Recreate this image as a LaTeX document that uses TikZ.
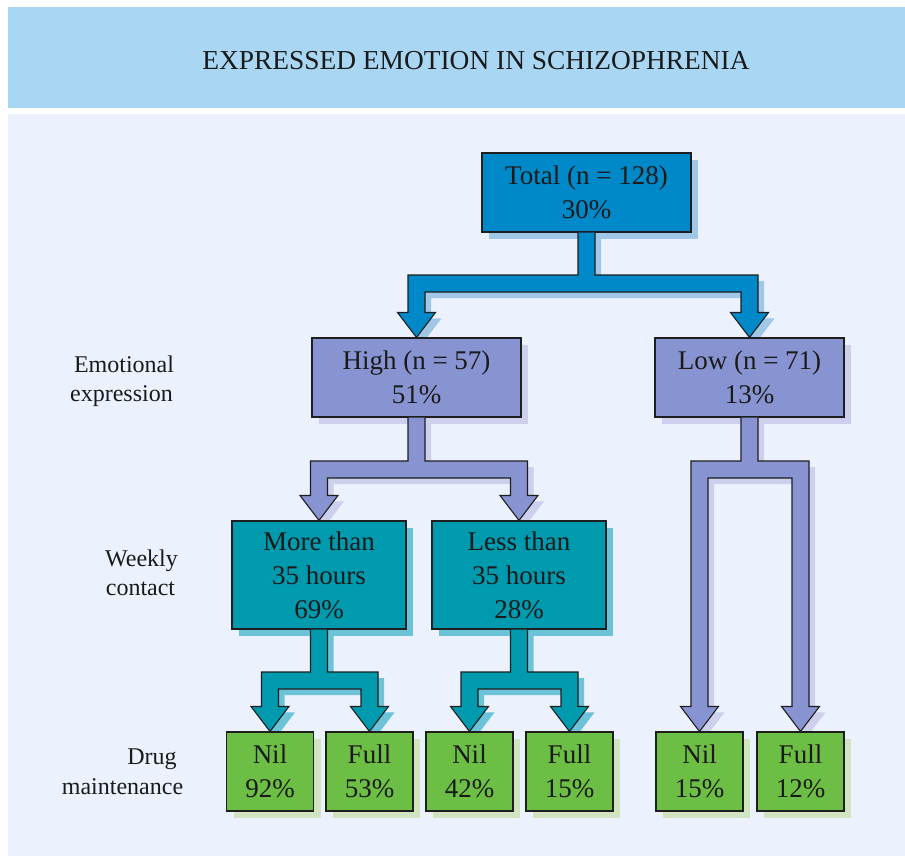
\documentclass[tikz,border=0pt]{standalone}
\usepackage{fontspec}
\setmainfont{Liberation Serif}
\usetikzlibrary{calc,shadows,backgrounds}

\definecolor{hdr}{HTML}{A8D6F3}
\definecolor{panel}{HTML}{EBF2FD}
\definecolor{edge}{HTML}{1E1E1E}
\definecolor{txt}{HTML}{1A1A1A}
\definecolor{cBlue}{HTML}{0089C9}
\definecolor{sBlue}{HTML}{A0C8E6}
\definecolor{cPeri}{HTML}{8794D1}
\definecolor{sPeri}{HTML}{CCD0EC}
\definecolor{cTeal}{HTML}{009AAE}
\definecolor{sTeal}{HTML}{6CC3D8}
\definecolor{cGreen}{HTML}{6CBE45}
\definecolor{sGreen}{HTML}{D0E4C2}

\tikzset{
  box/.style={draw=edge, line width=1.1pt, inner sep=0pt, align=center,
    text=txt, font=\fontsize{27}{34}\selectfont},
  bluebox/.style={box, fill=cBlue,
    general shadow={fill=sBlue, shadow xshift=7pt, shadow yshift=-7pt},
    minimum width=209pt, minimum height=79pt},
  peribox/.style={box, fill=cPeri,
    general shadow={fill=sPeri, shadow xshift=7pt, shadow yshift=-7pt},
    minimum height=79pt},
  tealbox/.style={box, fill=cTeal,
    general shadow={fill=sTeal, shadow xshift=7pt, shadow yshift=-7pt},
    minimum width=174pt, minimum height=108pt},
  greenbox/.style={box, fill=cGreen,
    general shadow={fill=sGreen, shadow xshift=7pt, shadow yshift=-7pt},
    minimum width=87pt, minimum height=79pt},
  sidelabel/.style={anchor=base, inner sep=0pt, text=txt,
    font=\fontsize{24}{30}\selectfont},
  forkline/.style={draw=edge, line width=1.1pt, line join=miter}
}

% fork connector: #1 parent, #2 left child, #3 right child, #4 bar top (image y), #5 offset, #6 style
\newcommand\forkdraw[6]{%
  \path[#6] let \p1=($(#1.south)+(#5)$), \p2=($(#2.north)+(#5)$),
      \p3=($(#3.north)+(#5)$), \p4=($(0,#4)+(#5)$) in
    (\x1-8.5pt,\y1) -- (\x1-8.5pt,\y4) -- (\x2-8.5pt,\y4) --
    (\x2-8.5pt,\y2+25pt) -- (\x2-19pt,\y2+25pt) -- (\x2,\y2) --
    (\x2+19pt,\y2+25pt) -- (\x2+8.5pt,\y2+25pt) -- (\x2+8.5pt,\y4-17pt) --
    (\x3-8.5pt,\y4-17pt) -- (\x3-8.5pt,\y3+25pt) -- (\x3-19pt,\y3+25pt) --
    (\x3,\y3) -- (\x3+19pt,\y3+25pt) -- (\x3+8.5pt,\y3+25pt) --
    (\x3+8.5pt,\y4) -- (\x1+8.5pt,\y4) -- (\x1+8.5pt,\y1);}

\newcommand\fork[6]{% parent, left, right, barY, fill, shadow
  \begin{pgfonlayer}{background}
    \forkdraw{#1}{#2}{#3}{#4}{6pt,-6pt}{fill=#6}
  \end{pgfonlayer}
  \forkdraw{#1}{#2}{#3}{#4}{0pt,0pt}{fill=#5, forkline}}

\begin{document}
\begin{tikzpicture}[x=1pt,y=-1pt]
\useasboundingbox (0,0) rectangle (905,856);
\begin{pgfonlayer}{background}
  \fill[white] (0,0) rectangle (905,856);
  \fill[hdr] (8,7) rectangle (905,108);
  \fill[panel] (8,114) rectangle (905,856);
\end{pgfonlayer}

\node[anchor=base, inner sep=0pt, text=txt, font=\fontsize{27.4}{33}\selectfont]
  (title) at (476,70) {EXPRESSED EMOTION IN SCHIZOPHRENIA};

% boxes
\node[bluebox] (total) at (586.5,192.5) {Total (n = 128)\\30\%};
\node[peribox, minimum width=209pt] (high) at (416.5,377.5) {High (n = 57)\\51\%};
\node[peribox, minimum width=189pt] (low) at (749.5,377.5) {Low (n = 71)\\13\%};
\node[tealbox] (more) at (319,575) {More than\\35 hours\\69\%};
\node[tealbox] (less) at (519,575) {Less than\\35 hours\\28\%};
\node[greenbox] (nilA) at (270,771.5) {Nil\\92\%};
\node[greenbox] (fullA) at (369.5,771.5) {Full\\53\%};
\node[greenbox] (nilB) at (469.5,771.5) {Nil\\42\%};
\node[greenbox] (fullB) at (569.5,771.5) {Full\\15\%};
\node[greenbox] (nilC) at (699.5,771.5) {Nil\\15\%};
\node[greenbox] (fullC) at (800.5,771.5) {Full\\12\%};

% side labels
\node[sidelabel] (emo1) at (124,372) {Emotional};
\node[sidelabel] (emo2) at (121.5,401) {expression};
\node[sidelabel] (wk1) at (141.5,566) {Weekly};
\node[sidelabel] (wk2) at (140.5,595.5) {contact};
\node[sidelabel] (dr1) at (152,764) {Drug};
\node[sidelabel] (dr2) at (122.5,794) {maintenance};

% connectors
\fork{total}{high}{low}{275}{cBlue}{sBlue}
\fork{high}{more}{less}{461}{cPeri}{sPeri}
\fork{low}{nilC}{fullC}{461}{cPeri}{sPeri}
\fork{more}{nilA}{fullA}{672}{cTeal}{sTeal}
\fork{less}{nilB}{fullB}{672}{cTeal}{sTeal}
\end{tikzpicture}
\end{document}
